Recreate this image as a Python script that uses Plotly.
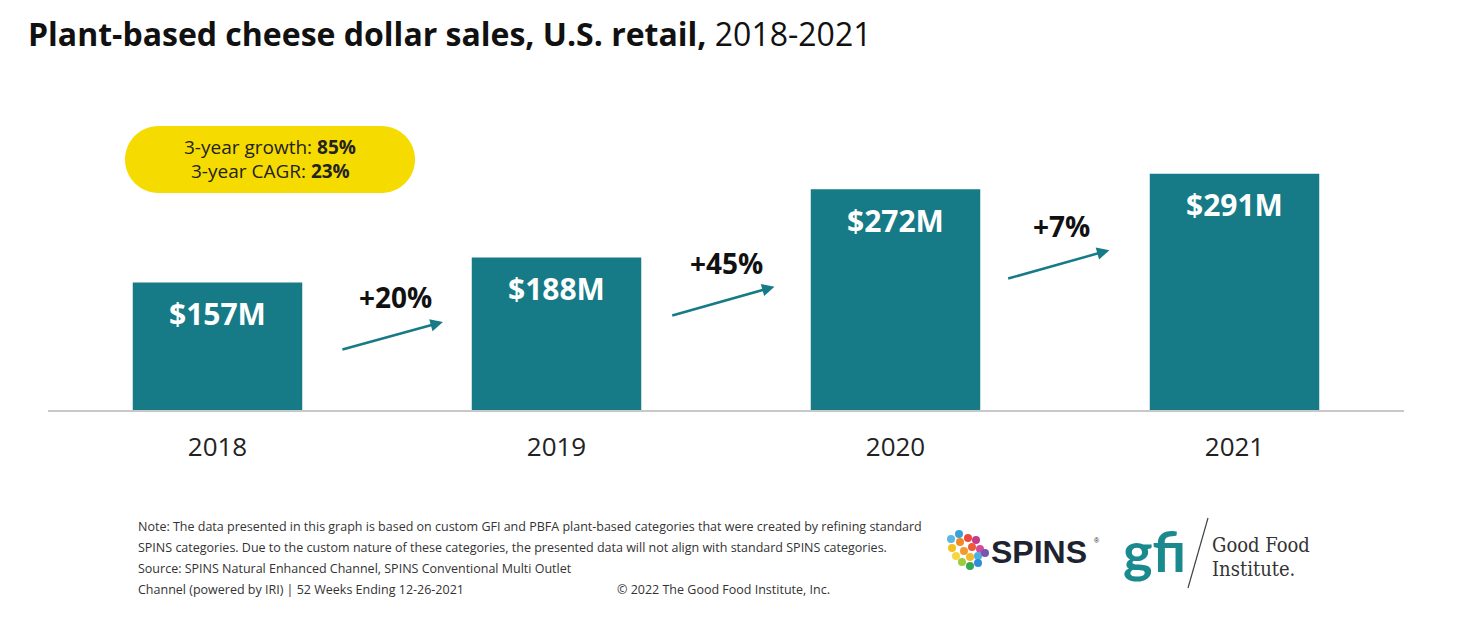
import plotly.graph_objects as go

# ---- data ----
years = ["2018", "2019", "2020", "2021"]
sales_musd = [157, 188, 272, 291]
sales_labels = ["$157M", "$188M", "$272M", "$291M"]
growth_labels = ["+20%", "+45%", "+7%"]
summary_lines = ["3-year growth: <b>85%</b>", "3-year CAGR: <b>23%</b>"]
title_bold = "Plant-based cheese dollar sales, U.S. retail,"
title_rest = "2018-2021"
note_lines = [
    "Note: The data presented in this graph is based on custom GFI and PBFA plant-based categories that were created by refining standard",
    "SPINS categories. Due to the custom nature of these categories, the presented data will not align with standard SPINS categories.",
    "Source: SPINS Natural Enhanced Channel, SPINS Conventional Multi Outlet",
    "Channel (powered by IRI) | 52 Weeks Ending 12-26-2021",
]
copyright_text = "© 2022 The Good Food Institute, Inc."

# ---- layout constants ----
W, H = 1460, 630
OFF = 8  # page margin offset in the screenshot
L, T = 40, 118
PW, PH = 1356, 284
R, B = W - L - PW, H - T - PH
TEAL = "#167B87"
FONT = "Open Sans"

def px(x):
    return (x - OFF - L) / PW

def py(y):
    return (H - B - (y - OFF)) / PH

fig = go.Figure()
fig.add_trace(go.Bar(
    x=years, y=sales_musd, marker_color=TEAL, width=0.5,
    marker_line_width=0, hoverinfo="skip",
))

ann = []
# value labels inside bars
for i, (v, lab) in enumerate(zip(sales_musd, sales_labels)):
    ann.append(dict(x=i, y=v, xref="x", yref="y", text="<b>" + lab + "</b>", showarrow=False,
                    xanchor="center", yanchor="middle", yshift=-31,
                    font=dict(family=FONT, size=30, color="white")))

# growth arrows + labels (positions are layout, in data units)
arrow_pos = [  # (x0, y0, x1, y1, label_y)
    (0.364, 74, 0.665, 108.5, 139),
    (1.337, 116, 1.643, 152, 181),
    (2.328, 161.5, 2.631, 197, 227),
]
for (x0, y0, x1, y1, ly), g in zip(arrow_pos, growth_labels):
    ann.append(dict(x=x1, y=y1, ax=x0, ay=y0, xref="x", yref="y", axref="x", ayref="y",
                    showarrow=True, arrowhead=2, arrowsize=1, arrowwidth=2.5,
                    arrowcolor=TEAL, text=""))
    ann.append(dict(x=(x0 + x1) / 2 + 0.01, y=ly, xref="x", yref="y", text="<b>" + g + "</b>",
                    showarrow=False, xanchor="center", yanchor="middle",
                    font=dict(family=FONT, size=28, color="#111")))

# summary pill text
for i, s in enumerate(summary_lines):
    ann.append(dict(x=px(270), y=py(147 + 24 * i), xref="paper", yref="paper", text=s,
                    showarrow=False, xanchor="center", yanchor="middle",
                    font=dict(family=FONT, size=19, color="#222")))

# title
ann.append(dict(x=px(26), y=py(33), xref="paper", yref="paper", xanchor="left", yanchor="middle",
                text="<b>" + title_bold + "</b> " + title_rest, showarrow=False,
                font=dict(family=FONT, size=32, color="#111")))

# notes
note_y = [526, 547, 568, 589]
for t, yy in zip(note_lines, note_y):
    ann.append(dict(x=px(136), y=py(yy), xref="paper", yref="paper", xanchor="left",
                    yanchor="middle", text=t, showarrow=False,
                    font=dict(family=FONT, size=12.5, color="#333")))
ann.append(dict(x=px(615), y=py(589), xref="paper", yref="paper", xanchor="left",
                yanchor="middle", text=copyright_text, showarrow=False,
                font=dict(family=FONT, size=12.5, color="#333")))

# logos (text approximations)
ann.append(dict(x=px(989), y=py(552), xref="paper", yref="paper", xanchor="left", yanchor="middle",
                text="<b>SPINS</b>", showarrow=False,
                font=dict(family="Liberation Sans", size=32, color="#1d2330")))
ann.append(dict(x=px(1092), y=py(540), xref="paper", yref="paper", xanchor="left", yanchor="middle",
                text="®", showarrow=False, font=dict(family="Liberation Sans", size=7, color="#1d2330")))
ann.append(dict(x=px(1121), y=py(550), xref="paper", yref="paper", xanchor="left", yanchor="middle",
                text="<b>gfi</b>", showarrow=False,
                font=dict(family="Lato", size=56, color="#1a8a8f")))
ann.append(dict(x=px(1210), y=py(545), xref="paper", yref="paper", xanchor="left", yanchor="middle",
                text="Good Food", showarrow=False,
                font=dict(family="DejaVu Serif Condensed, DejaVu Serif", size=20, color="#333")))
ann.append(dict(x=px(1210), y=py(569), xref="paper", yref="paper", xanchor="left", yanchor="middle",
                text="Institute.", showarrow=False,
                font=dict(family="DejaVu Serif Condensed, DejaVu Serif", size=20, color="#333")))

shapes = []
# yellow pill
x0, x1, y0, y1 = 125, 415, 126, 193
r = (y1 - y0) / 2
k = 0.5523 * r
path = (f"M {px(x0 + r)},{py(y0)} L {px(x1 - r)},{py(y0)} "
        f"C {px(x1 - r + k)},{py(y0)} {px(x1)},{py(y0 + r - k)} {px(x1)},{py(y0 + r)} "
        f"C {px(x1)},{py(y0 + r + k)} {px(x1 - r + k)},{py(y1)} {px(x1 - r)},{py(y1)} "
        f"L {px(x0 + r)},{py(y1)} "
        f"C {px(x0 + r - k)},{py(y1)} {px(x0)},{py(y0 + r + k)} {px(x0)},{py(y0 + r)} "
        f"C {px(x0)},{py(y0 + r - k)} {px(x0 + r - k)},{py(y0)} {px(x0 + r)},{py(y0)} Z")
shapes.append(dict(type="path", xref="paper", yref="paper", path=path,
                   fillcolor="#F6DB00", line=dict(width=0), layer="below"))

# gfi slash
shapes.append(dict(type="line", xref="paper", yref="paper", x0=px(1208), y0=py(518),
                   x1=px(1188), y1=py(588), line=dict(color="#444", width=1.2)))

# SPINS globe approximation: coloured dots
globe = [
    (952, 548, "#f4c020"), (960, 542, "#f08a24"), (968, 538, "#e94b3c"), (976, 540, "#c43b8c"),
    (956, 556, "#f7d640"), (964, 551, "#f39a2c"), (972, 547, "#ee5a3a"), (980, 549, "#d54a9b"),
    (962, 562, "#9ccc3c"), (970, 557, "#f5b92e"), (978, 556, "#4fb0e0"), (985, 553, "#7a55b0"),
    (970, 566, "#36a853"), (978, 563, "#2c8fd6"), (951, 539, "#5bb7e6"), (959, 534, "#3aa0d8"),
]
for gx, gy, c in globe:
    shapes.append(dict(type="circle", xref="paper", yref="paper",
                       x0=px(gx - 4), x1=px(gx + 4), y0=py(gy + 4), y1=py(gy - 4),
                       fillcolor=c, line=dict(width=0)))

fig.update_layout(
    width=W, height=H, margin=dict(l=L, r=R, t=T, b=B, autoexpand=False),
    paper_bgcolor="white", plot_bgcolor="white", showlegend=False,
    annotations=ann, shapes=shapes,
    xaxis=dict(type="category", range=[-0.5, 3.5], showgrid=False, zeroline=False, showline=True,
               linecolor="#c8c8c8", linewidth=1.5, ticks="", ticklabelstandoff=13,
               tickfont=dict(family=FONT, size=26, color="#222")),
    yaxis=dict(range=[0, 350], showgrid=False, zeroline=False, showline=False,
               showticklabels=False, ticks=""),
)

fig.write_html("out.html")
